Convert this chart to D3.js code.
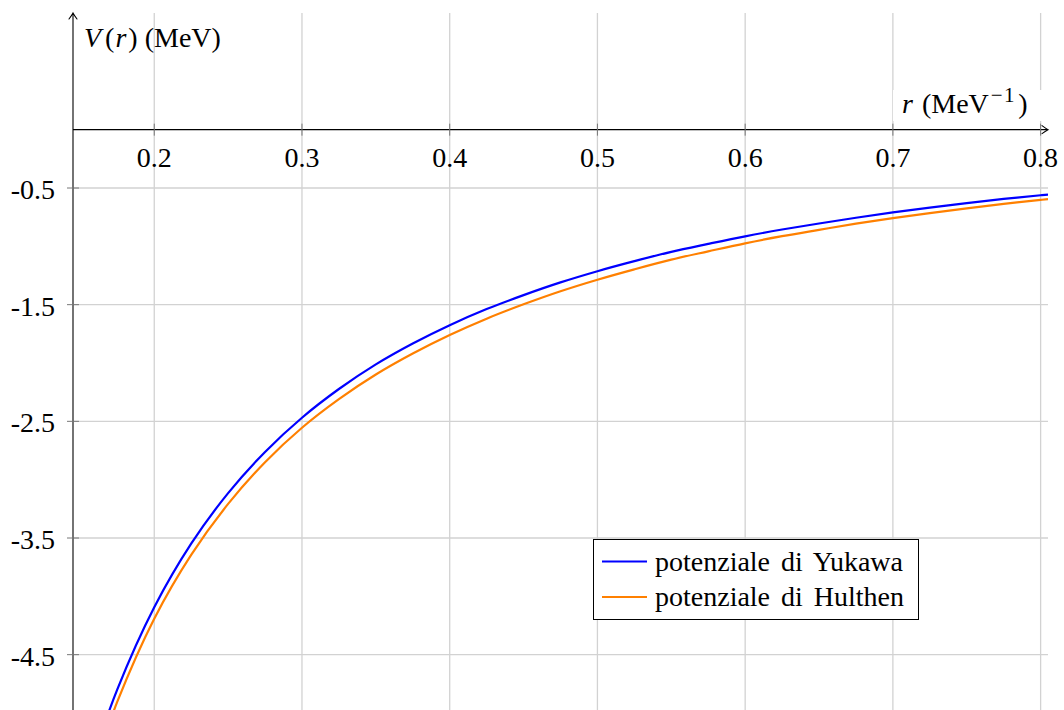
<!DOCTYPE html>
<html>
<head>
<meta charset="utf-8">
<script src="https://cdn.jsdelivr.net/npm/d3@7"></script>
<style>
  body { margin: 0; background: #fff; }
  text { font-family: "Liberation Serif", "Times New Roman", serif; fill: #000; }
</style>
</head>
<body>
<script>
// r values (MeV^-1)
const rValues = [0.16, 0.175, 0.2, 0.225, 0.25, 0.275, 0.3, 0.325, 0.35, 0.375, 0.4, 0.425, 0.45, 0.475,
                 0.5, 0.525, 0.55, 0.575, 0.6, 0.625, 0.65, 0.675, 0.7, 0.725, 0.75, 0.775, 0.8, 0.805];
// V(r) in MeV
const yukawa = [-5.33, -4.797, -4.094, -3.549, -3.115, -2.762, -2.469, -2.223, -2.012, -1.833, -1.676, -1.538, -1.418, -1.309,
                -1.213, -1.127, -1.047, -0.979, -0.914, -0.856, -0.804, -0.755, -0.709, -0.668, -0.630, -0.594, -0.562, -0.556];
const hulthen = [-5.44, -4.903, -4.192, -3.645, -3.208, -2.850, -2.555, -2.310, -2.099, -1.919, -1.760, -1.620, -1.497, -1.385,
                 -1.286, -1.197, -1.114, -1.043, -0.974, -0.913, -0.859, -0.806, -0.758, -0.715, -0.674, -0.636, -0.602, -0.595];
const xTicks = [0.2, 0.3, 0.4, 0.5, 0.6, 0.7, 0.8];
const yTicks = [-0.5, -1.5, -2.5, -3.5, -4.5];
const seriesNames = ["potenziale di Yukawa", "potenziale di Hulthen"];
const seriesColors = ["#0000ff", "#ff8000"];

const width = 1064, height = 710;
const pLeft = 73, pRight = 1048, pTop = 13, pBottom = 713;

const x = d3.scaleLinear().domain([0.145, 0.805]).range([pLeft, pRight]);
const y = d3.scaleLinear().domain([-5, 1]).range([pBottom, pTop]);

const svg = d3.select("body").append("svg")
    .attr("width", width)
    .attr("height", height);

svg.append("defs").append("clipPath")
    .attr("id", "plot")
    .append("rect")
    .attr("x", pLeft).attr("y", pTop)
    .attr("width", pRight - pLeft).attr("height", pBottom - pTop);

// grid
svg.append("g")
    .attr("stroke", "#d2d2d2")
    .attr("stroke-width", 1.3)
    .call(g => g.selectAll(".vx").data(xTicks).join("line")
        .attr("class", "vx")
        .attr("x1", d => x(d)).attr("x2", d => x(d))
        .attr("y1", pTop).attr("y2", pBottom))
    .call(g => g.selectAll(".hy").data(yTicks).join("line")
        .attr("class", "hy")
        .attr("x1", pLeft).attr("x2", pRight)
        .attr("y1", d => y(d)).attr("y2", d => y(d)));

// curves
const line = d3.line().curve(d3.curveCatmullRom.alpha(0.5));
const series = [yukawa, hulthen];
svg.append("g")
    .attr("clip-path", "url(#plot)")
    .selectAll("path")
    .data(series)
    .join("path")
    .attr("fill", "none")
    .attr("stroke", (d, i) => seriesColors[i])
    .attr("stroke-width", 2.2)
    .attr("d", vals => line(vals.map((v, j) => [x(rValues[j]), y(v)])));

// axes (middle style)
const ax = y(0), ay = pLeft;
const axis = svg.append("g").attr("stroke", "#000").attr("stroke-width", 1.1);
axis.append("line").attr("x1", pLeft).attr("x2", pRight - 1).attr("y1", ax).attr("y2", ax);
axis.append("line").attr("x1", ay).attr("x2", ay).attr("y1", pTop + 1).attr("y2", pBottom);
axis.append("path")
    .attr("fill", "none")
    .attr("stroke-linecap", "round")
    .attr("d", `M${pRight - 6},${ax - 4} Q${pRight - 2},${ax - 1} ${pRight},${ax} Q${pRight - 2},${ax + 1} ${pRight - 6},${ax + 4}`);
axis.append("path")
    .attr("fill", "none")
    .attr("stroke-linecap", "round")
    .attr("d", `M${ay - 4},${pTop + 6} Q${ay - 1},${pTop + 2} ${ay},${pTop} Q${ay + 1},${pTop + 2} ${ay + 4},${pTop + 6}`);

// ticks
const ticks = svg.append("g").attr("stroke", "#777").attr("stroke-width", 1);
ticks.selectAll(".tx").data(xTicks).join("line")
    .attr("class", "tx")
    .attr("x1", d => x(d)).attr("x2", d => x(d))
    .attr("y1", ax - 6).attr("y2", ax + 6);
ticks.selectAll(".ty").data(yTicks).join("line")
    .attr("class", "ty")
    .attr("x1", ay - 6).attr("x2", ay + 6)
    .attr("y1", d => y(d)).attr("y2", d => y(d));

// tick labels
const fs = 28;
svg.append("g")
    .attr("font-size", fs)
    .attr("text-anchor", "middle")
    .selectAll("text").data(xTicks).join("text")
    .attr("x", d => x(d))
    .attr("y", ax + 37)
    .text(d => d3.format(".1f")(d));

svg.append("g")
    .attr("font-size", fs)
    .attr("text-anchor", "end")
    .selectAll("text").data(yTicks).join("text")
    .attr("x", ay - 18)
    .attr("y", d => y(d) + 11)
    .text(d => d3.format(".1f")(d).replace("−", "-"));

// axis labels
const yl = svg.append("text").attr("x", 84).attr("y", 47).attr("font-size", fs);
yl.append("tspan").attr("font-style", "italic").text("V");
yl.append("tspan").attr("dx", 4).text("(");
yl.append("tspan").attr("font-style", "italic").attr("dx", 1).text("r");
yl.append("tspan").attr("dx", 2).text(")");
yl.append("tspan").attr("dx", 7).text("(MeV)");

svg.append("rect")
    .attr("x", 893).attr("y", 90).attr("width", 150).attr("height", 31)
    .attr("fill", "#fff");
const xl = svg.append("text").attr("x", 902).attr("y", 113).attr("font-size", fs);
xl.append("tspan").attr("font-style", "italic").text("r");
xl.append("tspan").attr("dx", 9).text("(MeV");
xl.append("tspan").attr("font-size", 21).attr("dy", -11).attr("dx", 2).attr("letter-spacing", 1.5).text("−1");
xl.append("tspan").attr("dy", 11).attr("dx", 2).text(")");

// legend
const lg = svg.append("g");
lg.append("rect")
    .attr("x", 593.5).attr("y", 539.5).attr("width", 325).attr("height", 80)
    .attr("fill", "#fff").attr("stroke", "#000").attr("stroke-width", 1);
const rows = lg.selectAll(".row").data(seriesNames).join("g")
    .attr("class", "row")
    .attr("transform", (d, i) => `translate(0,${561.5 + i * 35.5})`);
rows.append("line")
    .attr("x1", 602).attr("x2", 647)
    .attr("stroke", (d, i) => seriesColors[i]).attr("stroke-width", 2.2);
rows.append("text")
    .attr("x", 655).attr("y", 9)
    .attr("font-size", fs)
    .attr("word-spacing", 4)
    .text(d => d);
</script>
</body>
</html>
